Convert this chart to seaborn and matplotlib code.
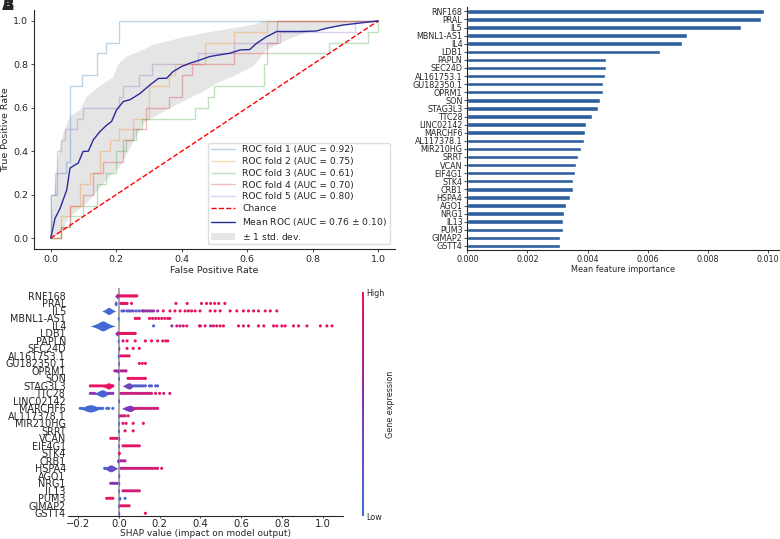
import numpy as np
import pandas as pd
import matplotlib
matplotlib.use("Agg")
import matplotlib.pyplot as plt
from matplotlib.colors import LinearSegmentedColormap, Normalize
from matplotlib.cm import ScalarMappable
import seaborn as sns

# ---------------- data ----------------
# ROC corners per fold
fold1_fpr = [0, 0, 0.02, 0.02, 0.046, 0.046, 0.06, 0.06, 0.095, 0.095, 0.14, 0.14, 0.17, 0.17, 0.21, 0.21, 1.0]
fold1_tpr = [0, 0.2, 0.2, 0.3, 0.3, 0.35, 0.35, 0.7, 0.7, 0.75, 0.75, 0.85, 0.85, 0.9, 0.9, 1.0, 1.0]
fold2_fpr = [0, 0.03, 0.03, 0.06, 0.06, 0.09, 0.09, 0.12, 0.12, 0.15, 0.15, 0.18, 0.18, 0.21, 0.21,
             0.25, 0.25, 0.3, 0.3, 0.36, 0.36, 0.38, 0.38, 0.47, 0.47, 0.56, 0.56, 0.66, 0.66, 1.0]
fold2_tpr = [0, 0, 0.1, 0.1, 0.15, 0.15, 0.25, 0.25, 0.3, 0.3, 0.4, 0.4, 0.45, 0.45, 0.5,
             0.5, 0.55, 0.55, 0.7, 0.7, 0.75, 0.75, 0.8, 0.8, 0.9, 0.9, 0.95, 0.95, 1.0, 1.0]
fold3_fpr = [0, 0.03, 0.03, 0.06, 0.06, 0.1, 0.1, 0.14, 0.14, 0.17, 0.17, 0.2, 0.2, 0.23, 0.23, 0.26, 0.26, 0.28,
             0.28, 0.44, 0.44, 0.48, 0.48, 0.5, 0.5, 0.65, 0.65, 0.66, 0.66, 0.85, 0.85, 0.97, 0.97, 1.0, 1.0]
fold3_tpr = [0, 0, 0.05, 0.05, 0.1, 0.1, 0.15, 0.15, 0.25, 0.25, 0.3, 0.3, 0.4, 0.4, 0.45, 0.45, 0.5, 0.5,
             0.55, 0.55, 0.6, 0.6, 0.65, 0.65, 0.7, 0.7, 0.8, 0.8, 0.85, 0.85, 0.9, 0.9, 0.95, 0.95, 1.0]
fold4_fpr = [0, 0.03, 0.03, 0.06, 0.06, 0.1, 0.1, 0.13, 0.13, 0.16, 0.16, 0.22, 0.22, 0.25, 0.25,
             0.29, 0.29, 0.36, 0.36, 0.4, 0.4, 0.43, 0.43, 0.56, 0.56, 0.66, 0.66, 0.69, 0.69, 1.0]
fold4_tpr = [0, 0, 0.05, 0.05, 0.15, 0.15, 0.2, 0.2, 0.3, 0.3, 0.35, 0.35, 0.45, 0.45, 0.5,
             0.5, 0.6, 0.6, 0.65, 0.65, 0.75, 0.75, 0.8, 0.8, 0.85, 0.85, 0.9, 0.9, 1.0, 1.0]
fold5_fpr = [0, 0, 0.013, 0.013, 0.02, 0.02, 0.03, 0.03, 0.045, 0.045, 0.08, 0.08, 0.1, 0.1, 0.21, 0.21,
             0.22, 0.22, 0.27, 0.27, 0.31, 0.31, 0.45, 0.45, 0.56, 0.56, 0.7, 0.7, 0.93, 0.93, 1.0]
fold5_tpr = [0, 0.2, 0.2, 0.3, 0.3, 0.4, 0.4, 0.45, 0.45, 0.5, 0.5, 0.55, 0.55, 0.6, 0.6, 0.65,
             0.65, 0.7, 0.7, 0.75, 0.75, 0.8, 0.8, 0.85, 0.85, 0.9, 0.9, 0.95, 0.95, 1.0, 1.0]
fold_auc = [0.92, 0.75, 0.61, 0.70, 0.80]

mean_fpr = [0, 0.008, 0.013, 0.029, 0.049, 0.059, 0.074, 0.084, 0.099, 0.115, 0.13, 0.15, 0.171, 0.186,
            0.201, 0.222, 0.242, 0.273, 0.303, 0.329, 0.354, 0.374, 0.4, 0.425, 0.456, 0.486, 0.517,
            0.547, 0.578, 0.608, 0.628, 0.659, 0.69, 0.76, 0.81, 0.842, 0.893, 0.944, 1.0]
mean_tpr = [0, 0.054, 0.09, 0.138, 0.222, 0.322, 0.337, 0.345, 0.399, 0.40, 0.452, 0.49, 0.52, 0.537,
            0.59, 0.629, 0.637, 0.666, 0.705, 0.735, 0.736, 0.767, 0.79, 0.805, 0.82, 0.836, 0.844,
            0.851, 0.866, 0.868, 0.896, 0.927, 0.951, 0.951, 0.953, 0.966, 0.981, 0.99, 1.0]
mean_auc = 0.76
std_auc = 0.10

upper_fpr = [0, 0.008, 0.023, 0.039, 0.059, 0.09, 0.11, 0.15, 0.191, 0.206, 0.232, 0.283, 0.313,
             0.354, 0.415, 0.496, 0.557, 0.618, 0.649, 1.0]
upper_tpr = [0.05, 0.175, 0.376, 0.483, 0.56, 0.59, 0.65, 0.7, 0.74, 0.8, 0.836, 0.867, 0.89,
             0.905, 0.928, 0.951, 0.966, 0.982, 1.0, 1.0]
lower_fpr = [0, 0.029, 0.059, 0.1, 0.13, 0.171, 0.212, 0.252, 0.283, 0.308, 0.354, 0.415, 0.466,
             0.507, 0.557, 0.618, 0.659, 0.71, 0.76, 0.811, 0.862, 0.913, 1.0]
lower_tpr = [0, 0.023, 0.1, 0.147, 0.193, 0.27, 0.33, 0.44, 0.53, 0.552, 0.59, 0.637, 0.675,
             0.713, 0.744, 0.79, 0.866, 0.905, 0.935, 0.958, 0.974, 0.989, 1.0]

# feature importance
genes = ["RNF168", "PRAL", "IL5", "MBNL1-AS1", "IL4", "LDB1", "PAPLN", "SEC24D", "AL161753.1",
         "GU182350.1", "OPRM1", "SON", "STAG3L3", "TTC28", "LINC02142", "MARCHF6", "AL117378.1",
         "MIR210HG", "SRRT", "VCAN", "EIF4G1", "STK4", "CRB1", "HSPA4", "AGO1", "NRG1", "IL13",
         "PUM3", "GIMAP2", "GSTT4"]
importance = [0.00988, 0.00976, 0.00911, 0.00731, 0.00715, 0.00642, 0.00463, 0.00461, 0.00457,
              0.00452, 0.00450, 0.00441, 0.00435, 0.00415, 0.00394, 0.00390, 0.00388, 0.00378,
              0.00368, 0.00361, 0.00359, 0.00353, 0.00352, 0.00343, 0.00328, 0.00323, 0.00320,
              0.00320, 0.00310, 0.00310]

# SHAP dense clusters: gene, shap values, expression level
blob_gene = ["RNF168", "PRAL", "IL5", "MBNL1-AS1", "IL4", "LDB1", "PAPLN", "SEC24D", "AL161753.1",
             "GU182350.1", "OPRM1", "SON", "STAG3L3", "STAG3L3", "TTC28", "LINC02142", "MARCHF6",
             "MARCHF6", "AL117378.1", "MIR210HG", "SRRT", "VCAN", "EIF4G1", "STK4", "CRB1", "HSPA4",
             "AGO1", "NRG1", "IL13", "PUM3", "GIMAP2", "GSTT4"]
blob_x = [[-0.015, -0.01, -0.008, -0.005],
          [-0.02, -0.017, -0.015, -0.012],
          [-0.07, -0.06, -0.055, -0.05, -0.05, -0.045, -0.04, -0.03],
          [-0.006, -0.004, -0.002],
          [-0.12, -0.11, -0.1, -0.095, -0.09, -0.085, -0.08, -0.08, -0.078, -0.075, -0.07, -0.065, -0.06, -0.05, -0.04],
          [-0.015, -0.01, -0.008, -0.005],
          [-0.006, -0.004, -0.002],
          [-0.002, 0.0, 0.002],
          [-0.006, -0.004, -0.002],
          [-0.004, -0.002, 0.0],
          [-0.01, -0.006, -0.003],
          [-0.004, -0.002, 0.0],
          [-0.07, -0.06, -0.055, -0.05, -0.045, -0.04],
          [0.03, 0.04, 0.045, 0.05, 0.055, 0.06],
          [-0.11, -0.095, -0.09, -0.085, -0.08, -0.075, -0.07, -0.06],
          [-0.003, -0.001, 0.001],
          [-0.17, -0.16, -0.15, -0.14, -0.14, -0.13, -0.12, -0.11],
          [0.03, 0.04, 0.05, 0.055, 0.06, 0.07],
          [-0.004, -0.002, 0.0],
          [-0.004, -0.002, 0.0],
          [-0.004, -0.002, 0.0],
          [-0.002, 0.0, 0.002],
          [-0.004, -0.002, 0.0],
          [-0.002, 0.0, 0.002],
          [-0.008, -0.005, -0.002],
          [-0.06, -0.05, -0.045, -0.04, -0.035, -0.03, -0.02],
          [-0.002, 0.0, 0.002],
          [-0.002, 0.0, 0.002],
          [-0.004, -0.002, 0.0],
          [0.0, 0.003, 0.006],
          [-0.004, -0.002, 0.0],
          [-0.002, 0.0, 0.002]]
blob_c = [0.5, 0.1, 0.05, 0.1, 0.05, 0.45, 0.1, 0.5, 0.1, 0.1, 0.4, 0.1, 0.95, 0.35, 0.1, 0.1,
          0.05, 0.45, 0.1, 0.1, 0.1, 0.1, 0.1, 0.5, 0.4, 0.3, 0.1, 0.1, 0.1, 0.1, 0.1, 0.1]

# SHAP scattered points: gene, shap values, expression level
dot_gene = ["RNF168", "PRAL", "IL5", "IL5", "IL5", "MBNL1-AS1", "IL4", "IL4", "IL4", "LDB1", "PAPLN",
            "SEC24D", "AL161753.1", "GU182350.1", "OPRM1", "SON", "STAG3L3", "STAG3L3", "TTC28", "TTC28",
            "TTC28", "MARCHF6", "MARCHF6", "AL117378.1", "MIR210HG", "SRRT", "VCAN", "EIF4G1", "STK4",
            "CRB1", "HSPA4", "HSPA4", "HSPA4", "NRG1", "IL13", "PUM3", "PUM3", "GIMAP2", "GSTT4"]
dot_x = [[0.003, 0.01, 0.017, 0.024, 0.031, 0.038, 0.045, 0.052, 0.059, 0.066, 0.073, 0.08, 0.088],
         [0.01, 0.017, 0.024, 0.031, 0.04, 0.062, 0.28, 0.335, 0.405, 0.43, 0.45, 0.47, 0.49, 0.52],
         [0.015, 0.025, 0.04, 0.05, 0.06, 0.07, 0.085, 0.1, 0.115],
         [0.12, 0.13, 0.14, 0.15, 0.16, 0.17, 0.19],
         [0.218, 0.251, 0.275, 0.3, 0.325, 0.341, 0.357, 0.374, 0.398, 0.448, 0.472, 0.497, 0.546,
          0.579, 0.611, 0.636, 0.661, 0.685, 0.718, 0.743, 0.775],
         [0.08, 0.09, 0.1, 0.15, 0.165, 0.18, 0.195, 0.21, 0.225, 0.24, 0.25],
         [0.17],
         [0.26, 0.3, 0.4, 0.45],
         [0.284, 0.316, 0.333, 0.395, 0.423, 0.464, 0.48, 0.497, 0.513, 0.587, 0.611, 0.636, 0.685,
          0.711, 0.759, 0.775, 0.8, 0.816, 0.857, 0.882, 0.923, 0.989, 1.021, 1.046],
         [0.003, 0.01, 0.017, 0.024, 0.031, 0.038, 0.045, 0.052, 0.059, 0.066, 0.073, 0.08],
         [0.02, 0.04, 0.08, 0.13, 0.16, 0.19, 0.215, 0.23, 0.24],
         [0.04, 0.07, 0.1],
         [0.01, 0.02, 0.03, 0.04, 0.05],
         [0.1, 0.115, 0.13],
         [-0.02, -0.012, 0.01, 0.02, 0.03, 0.035],
         [0.045, 0.055, 0.065, 0.075, 0.085, 0.095, 0.105, 0.115, 0.125, 0.13],
         [-0.14, -0.13, -0.12, -0.11, -0.1, -0.09, -0.08, -0.07, -0.035, -0.03],
         [0.07, 0.08, 0.09, 0.1, 0.11, 0.12, 0.13, 0.15, 0.16, 0.18, 0.19],
         [-0.14, -0.13, -0.12, -0.05, -0.04, -0.03],
         [0.01, 0.03, 0.05, 0.07, 0.09, 0.11, 0.13, 0.15],
         [0.02, 0.04, 0.06, 0.08, 0.1, 0.12, 0.14, 0.16, 0.18, 0.2, 0.22, 0.25],
         [-0.19, -0.18, -0.1, -0.09, -0.08, -0.06, -0.05, -0.03],
         [0.08, 0.09, 0.1, 0.11, 0.12, 0.13, 0.14, 0.15, 0.16, 0.17, 0.18, 0.19],
         [0.01, 0.02, 0.03, 0.045],
         [0.02, 0.035, 0.07, 0.12],
         [0.03, 0.07],
         [-0.04, -0.03, -0.02, -0.01],
         [0.02, 0.03, 0.04, 0.05, 0.06, 0.07, 0.08, 0.09, 0.1],
         [0.002],
         [0.01, 0.02, 0.03],
         [-0.07, -0.065],
         [0.01, 0.03, 0.05, 0.07, 0.09, 0.11, 0.13, 0.15, 0.17],
         [0.02, 0.04, 0.06, 0.08, 0.1, 0.12, 0.14, 0.16, 0.18, 0.19, 0.21],
         [-0.04, -0.03, -0.02, -0.01],
         [0.02, 0.03, 0.04, 0.05, 0.06, 0.07, 0.08, 0.09, 0.1],
         [-0.06, -0.05, -0.04, -0.03],
         [0.03],
         [0.01, 0.02, 0.03, 0.04, 0.05],
         [0.13]]
dot_c = [0.95, 0.95, 0.2, 0.6, 0.95, 0.95, 0.1, 0.55, 0.95, 0.95, 0.95, 0.95, 0.95, 0.95, 0.7, 0.95,
         0.95, 0.15, 0.5, 0.6, 0.9, 0.05, 0.85, 0.9, 0.95, 0.95, 0.95, 0.95, 0.95, 0.7, 0.1, 0.55,
         0.95, 0.5, 0.85, 0.95, 0.1, 0.95, 0.95]

# ---------------- figure ----------------
sns.set_style("ticks")
W, H = 780, 539
fig = plt.figure(figsize=(W / 100, H / 100), dpi=100)


def px_rect(l, t, r, b):
    return [l / W, 1 - b / H, (r - l) / W, (b - t) / H]


axA = fig.add_axes(px_rect(34.3, 10, 394.6, 249))
axB = fig.add_axes(px_rect(467.3, 7.3, 779, 250))
axC = fig.add_axes(px_rect(68, 288, 343, 516))
cax = fig.add_axes(px_rect(361.5, 292, 363.7, 516))

# ---- A: ROC ----
fold_fprs = [fold1_fpr, fold2_fpr, fold3_fpr, fold4_fpr, fold5_fpr]
fold_tprs = [fold1_tpr, fold2_tpr, fold3_tpr, fold4_tpr, fold5_tpr]
tab = sns.color_palette("tab10")
for i in range(5):
    sns.lineplot(x=fold_fprs[i], y=fold_tprs[i], sort=False, estimator=None, color=tab[i],
                 lw=1, alpha=0.3, label=f"ROC fold {i + 1} (AUC = {fold_auc[i]:.2f})", ax=axA)
sns.lineplot(x=[0, 1], y=[0, 1], sort=False, estimator=None, color="r", lw=1,
             linestyle="--", label="Chance", ax=axA)
sns.lineplot(x=mean_fpr, y=mean_tpr, sort=False, estimator=None, color="#2a2a9c", lw=1,
             label=f"Mean ROC (AUC = {mean_auc:.2f} $\\pm$ {std_auc:.2f})", ax=axA)
axA.fill(upper_fpr + lower_fpr[::-1], upper_tpr + lower_tpr[::-1], color="grey", alpha=0.2,
         lw=0, label=r"$\pm$ 1 std. dev.")
axA.set_xlim(-0.05, 1.05)
axA.set_ylim(-0.05, 1.05)
axA.set_xlabel("False Positive Rate", fontsize=6.8, labelpad=1)
axA.set_ylabel("True Positive Rate", fontsize=6.8, labelpad=2)
axA.tick_params(labelsize=6.8, length=2.5, width=0.6, pad=2)
axA.legend(loc="lower right", fontsize=6.6, frameon=True, edgecolor="#dddddd", framealpha=1,
           fancybox=True, handlelength=2.6, borderpad=0.3, labelspacing=0.3)
sns.despine(ax=axA)

# ---- B: feature importance ----
sns.barplot(x=importance, y=genes, orient="h", color="#2d5f9e", saturation=1, width=0.55, ax=axB)
axB.set_xlim(0, 0.01037)
axB.set_xticks([0, 0.002, 0.004, 0.006, 0.008, 0.010])
axB.set_xticklabels(["0.000", "0.002", "0.004", "0.006", "0.008", "0.010"])
axB.set_xlabel("Mean feature importance", fontsize=5.9, labelpad=1)
axB.set_ylabel("")
axB.tick_params(labelsize=5.8, length=2, width=0.6, pad=1.5)
sns.despine(ax=axB)

# ---- C: SHAP summary ----
shap_cmap = LinearSegmentedColormap.from_list("shap", ["#3d6ed8", "#8234b5", "#f0105c"])
norm = Normalize(0, 1)
axC.axvline(0, color="#999999", lw=1.2, zorder=0)
for g, xs, c in zip(blob_gene, blob_x, blob_c):
    sns.violinplot(x=xs, y=[g] * len(xs), order=genes, orient="y", color=shap_cmap(c),
                   saturation=1, inner=None, linewidth=0, cut=1.5,
                   width=0.34 * np.sqrt(len(xs)), ax=axC)

rows = []
for g, xs, c in zip(dot_gene, dot_x, dot_c):
    for x in xs:
        rows.append((genes.index(g), x, c))
dots = pd.DataFrame(rows, columns=["pos", "shap", "expr"])
sns.scatterplot(data=dots, x="shap", y="pos", hue="expr", palette=shap_cmap, hue_norm=(0, 1),
                s=5, linewidth=0, legend=False, ax=axC, zorder=3)

axC.set_xlim(-0.25, 1.10)
axC.set_ylim(29.36, -1.06)
axC.set_yticks(range(len(genes)))
axC.set_yticklabels(genes, fontsize=6.9)
axC.set_ylabel("")
axC.set_xlabel("SHAP value (impact on model output)", fontsize=6.5, labelpad=0)
axC.tick_params(axis="x", labelsize=7.2, length=1.5, width=0.6, pad=0.5)
axC.tick_params(axis="y", length=0, pad=1.5)
sns.despine(ax=axC, left=True)

cb = fig.colorbar(ScalarMappable(norm=norm, cmap=shap_cmap), cax=cax)
cb.set_ticks([0, 1])
cb.set_ticklabels(["Low", "High"])
cb.ax.tick_params(length=0, labelsize=5.8, pad=2)
cb.outline.set_visible(False)
cb.set_label("Gene expression", fontsize=5.8, labelpad=1)

fig.text(0.003, 1.004, "A", fontsize=11, weight="bold", va="top")
fig.text(0.003, 1.004, "B", fontsize=11, weight="bold", va="top")

fig.savefig("out.png", dpi=100)
